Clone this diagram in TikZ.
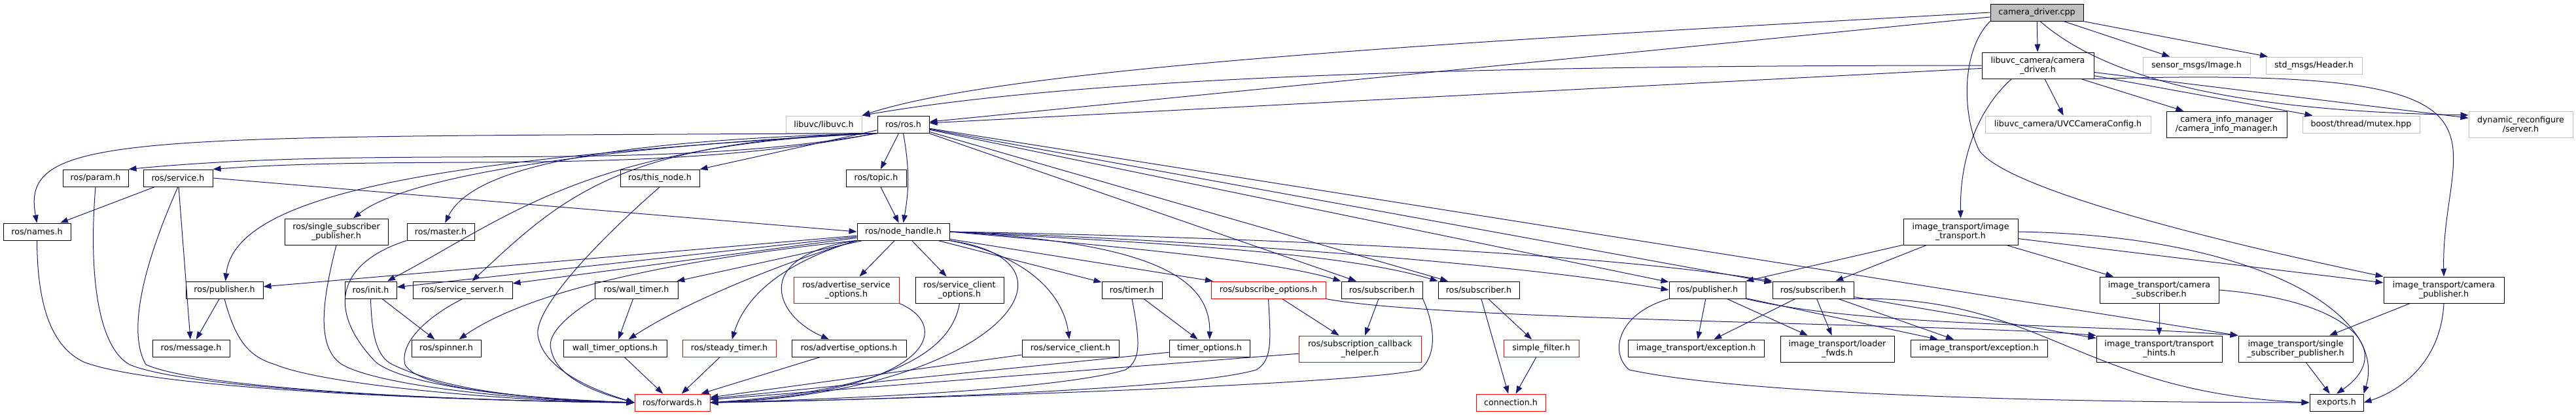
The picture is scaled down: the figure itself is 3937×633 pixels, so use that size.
\documentclass[tikz,border=0pt]{standalone}
\usepackage{fontspec}
\setmainfont{DejaVu Sans}
\usetikzlibrary{arrows.meta}
\definecolor{edgeblue}{HTML}{191970}
\definecolor{extgray}{HTML}{BFBFBF}

\begin{document}
\begin{tikzpicture}[x=0.75pt, y=-0.75pt,
  every node/.style={font=\fontsize{9.5}{10.5}\selectfont},
  box/.style={draw=black, line width=0.75pt, fill=white, inner sep=0pt, minimum height=19.5pt, align=center},
  two/.style={minimum height=30pt},
  bw/.style={minimum width=#1*0.75pt},
  ext/.style={box, draw=extgray},
  trunc/.style={box, draw=red},
  root/.style={box, fill=extgray},
  dep/.style={draw=edgeblue, line width=0.75pt, -{Triangle[length=9pt,width=6.5pt]}}]
  \useasboundingbox (0,0) rectangle (3937,633);

  % root and its direct includes
  \node[root, bw=142] (cpp) at (3113,19) {camera\_driver.cpp};
  \node[box, two, bw=171] (drvh) at (3114.5,100) {libuvc\_camera/camera\\\_driver.h};
  \node[ext, bw=164] (image) at (3357,100) {sensor\_msgs/Image.h};
  \node[ext, bw=147] (header) at (3536.5,100) {std\_msgs/Header.h};
  \node[ext, bw=116] (libuvc) at (1259,190) {libuvc/libuvc.h};
  \node[box, bw=79] (ros) at (1380.5,190) {ros/ros.h};
  \node[ext, bw=253] (uvccfg) at (3160.5,190) {libuvc\_camera/UVCCameraConfig.h};
  \node[box, two, bw=184] (cim) at (3403,190) {camera\_info\_manager\\/camera\_info\_manager.h};
  \node[ext, bw=179] (mutex) at (3608.5,190) {boost/thread/mutex.hpp};
  \node[ext, two, bw=159] (dynrec) at (3852.5,190) {dynamic\_reconfigure\\/server.h};

  % ros headers, upper rows
  \node[box, bw=100] (param) at (146,272) {ros/param.h};
  \node[box, bw=106] (service) at (272,272) {ros/service.h};
  \node[box, bw=121] (thisnode) at (1008.5,272) {ros/this\_node.h};
  \node[box, bw=92] (topic) at (1339,272) {ros/topic.h};
  \node[box, bw=103] (names) at (56.5,354) {ros/names.h};
  \node[box, two, bw=158] (sspub) at (514,354) {ros/single\_subscriber\\\_publisher.h};
  \node[box, bw=103] (master) at (673.5,354) {ros/master.h};
  \node[box, bw=141] (nh) at (1380.5,354) {ros/node\_handle.h};
  \node[box, two, bw=175] (itimg) at (2996.5,354) {image\_transport/image\\\_transport.h};

  % middle row
  \node[box, bw=118] (pubros) at (343,443) {ros/publisher.h};
  \node[box, bw=79] (init) at (566.5,443) {ros/init.h};
  \node[box, bw=152] (srvsrv) at (707,443) {ros/service\_server.h};
  \node[box, bw=127] (walltimer) at (972.5,443) {ros/wall\_timer.h};
  \node[trunc, two, bw=161] (advsrvopt) at (1293.5,443) {ros/advertise\_service\\\_options.h};
  \node[box, two, bw=135] (srvcliopt) at (1466.5,443) {ros/service\_client\\\_options.h};
  \node[box, bw=92] (timer) at (1730,443) {ros/timer.h};
  \node[trunc, bw=175] (subopt) at (1938.5,443) {ros/subscribe\_options.h};
  \node[box, bw=124] (subA) at (2112,443) {ros/subscriber.h};
  \node[box, bw=124] (subB) at (2260,443) {ros/subscriber.h};
  \node[box, bw=117] (pubit) at (2609.5,443) {ros/publisher.h};
  \node[box, bw=124] (subit) at (2771,443) {ros/subscriber.h};
  \node[box, two, bw=182] (camsub) at (3300,443) {image\_transport/camera\\\_subscriber.h};
  \node[box, two, bw=184] (campub) at (3735,443) {image\_transport/camera\\\_publisher.h};

  % lower row
  \node[box, bw=118] (message) at (292,532) {ros/message.h};
  \node[box, bw=106] (spinner) at (682,532) {ros/spinner.h};
  \node[box, bw=158] (wtopt) at (940,532) {wall\_timer\_options.h};
  \node[trunc, bw=143] (steady) at (1114.5,532) {ros/steady\_timer.h};
  \node[box, bw=175] (advopt) at (1297.5,532) {ros/advertise\_options.h};
  \node[box, bw=148] (srvcli) at (1636,532) {ros/service\_client.h};
  \node[box, bw=123] (timeropt) at (1848.5,532) {timer\_options.h};
  \node[trunc, two, bw=187] (subcb) at (2078.5,533) {ros/subscription\_callback\\\_helper.h};
  \node[trunc, bw=115] (simple) at (2355.5,532) {simple\_filter.h};
  \node[box, bw=208] (excA) at (2592,532) {image\_transport/exception.h};
  \node[box, two, bw=174] (loader) at (2808,533) {image\_transport/loader\\\_fwds.h};
  \node[box, bw=209] (excB) at (3024.5,532) {image\_transport/exception.h};
  \node[box, two, bw=192] (hints) at (3300,533) {image\_transport/transport\\\_hints.h};
  \node[box, two, bw=175] (sspubit) at (3508.5,533) {image\_transport/single\\\_subscriber\_publisher.h};

  % bottom row
  \node[trunc, bw=115] (forwards) at (1027.5,615) {ros/forwards.h};
  \node[trunc, bw=106] (connection) at (2309,615) {connection.h};
  \node[box, bw=82] (exports) at (3571,615) {exports.h};

  % edges from camera_driver.cpp
  \draw[dep] (cpp) -- (drvh);
  \draw[dep] (cpp) -- (image);
  \draw[dep] (cpp) -- (header);
  \draw[dep] (cpp.west) .. controls (2300,60) and (1550,100) .. (libuvc.north east);
  \draw[dep] (cpp) -- (ros);
  \draw[dep] (cpp.290) .. controls (3230,130) and (3450,170) .. (dynrec.170);
  \draw[dep] (cpp.south west) .. controls (2995,80) and (3000,180) .. (3025,230)
    .. controls (3060,280) and (3300,350) .. (campub.north west);

  % edges from camera_driver.h
  \draw[dep] (drvh) -- (ros);
  \draw[dep] (drvh.west) .. controls (2400,100) and (1700,110) .. (libuvc.north east);
  \draw[dep] (drvh) -- (uvccfg);
  \draw[dep] (drvh) -- (cim);
  \draw[dep] (drvh) -- (mutex);
  \draw[dep] (drvh) -- (dynrec);
  \draw[dep] (drvh.south east) .. controls (3900,100) and (3730,200) .. (campub.north);
  \draw[dep] ([xshift=-30pt]drvh.south) .. controls (3030,160) and (2995,230) .. (itimg.north);

  % edges from ros.h
  \draw[dep] (ros.south west) .. controls (1000,265) and (600,220) .. (param.north east);
  \draw[dep] (ros.south west) .. controls (1000,270) and (650,235) .. (service.north east);
  \draw[dep] (ros.south west) .. controls (200,210) and (30,200) .. (names.north);
  \draw[dep] (ros) -- (thisnode);
  \draw[dep] (ros) -- (topic);
  \draw[dep] (ros.south) to[bend left=10] (nh.north);
  \draw[dep] (ros.south west) .. controls (900,225) and (620,270) .. (sspub);
  \draw[dep] (ros.south west) .. controls (900,215) and (720,260) .. (master);
  \draw[dep] (ros.south west) .. controls (700,240) and (360,290) .. (pubros);
  \draw[dep] (ros.south west) .. controls (900,220) and (780,330) .. (init);
  \draw[dep] (ros.south west) .. controls (950,215) and (860,300) .. (srvsrv);
  \draw[dep] (ros) -- (subA);
  \draw[dep] (ros) -- (subB);
  \draw[dep] (ros) -- (pubit);
  \draw[dep] (ros) -- (subit);
  \draw[dep] (ros) -- (sspubit.north west);

  % left part down to ros/forwards.h
  \draw[dep] (service) -- (names);
  \draw[dep] (service) -- (message);
  \draw[dep] (service.east) -- (nh.west);
  \draw[dep] (topic) -- (nh);
  \draw[dep] (pubros) -- (message);
  \draw[dep] (init) -- (spinner);
  \draw[dep] (walltimer) -- (wtopt);
  \draw[dep] (names.south) .. controls (57,470) and (80,530) .. (128,553)
    .. controls (250,600) and (800,614) .. (forwards.west);
  \draw[dep] (param.south) .. controls (135,420) and (150,530) .. (198,557)
    .. controls (300,600) and (800,614) .. (forwards.west);
  \draw[dep] (service.south) .. controls (230,380) and (190,500) .. (223,557)
    .. controls (320,600) and (800,614) .. (forwards.west);
  \draw[dep] (pubros.south) .. controls (360,520) and (380,545) .. (421,557)
    .. controls (500,590) and (800,614) .. (forwards.west);
  \draw[dep] (sspub.south) .. controls (495,450) and (480,530) .. (523,557)
    .. controls (580,590) and (800,612) .. (forwards.west);
  \draw[dep] (master.south west) .. controls (520,400) and (495,470) .. (574,553)
    .. controls (620,590) and (800,610) .. (forwards.west);
  \draw[dep] (init.south) .. controls (568,510) and (575,545) .. (600,557)
    .. controls (680,595) and (800,610) .. (forwards.west);
  \draw[dep] (srvsrv.south) .. controls (660,480) and (610,520) .. (619,557)
    .. controls (640,595) and (800,608) .. (forwards.west);
  \draw[dep] (thisnode.south) .. controls (900,380) and (810,480) .. (823,517)
    .. controls (835,570) and (920,600) .. (forwards.west);
  \draw[dep] (walltimer.south west) .. controls (870,480) and (835,510) .. (842,533)
    .. controls (850,580) and (920,602) .. (forwards.west);
  \draw[dep] (wtopt) -- (forwards);
  \draw[dep] (steady) -- (forwards);
  \draw[dep] (advopt) -- (forwards);

  % right part down to ros/forwards.h
  \draw[dep] (advsrvopt.south east) .. controls (1460,500) and (1420,600) .. (forwards.east);
  \draw[dep] (srvcliopt.south) .. controls (1450,560) and (1300,600) .. (forwards.east);
  \draw[dep] (srvcli) -- (forwards);
  \draw[dep] (timer) -- (timeropt);
  \draw[dep] (timer.south) .. controls (1742,520) and (1745,550) .. (1720,565)
    .. controls (1600,600) and (1200,612) .. (forwards.east);
  \draw[dep] (timeropt) -- (forwards);
  \draw[dep] (subopt.south) .. controls (1942,520) and (1945,550) .. (1920,565)
    .. controls (1800,600) and (1200,614) .. (forwards.east);
  \draw[dep] (subopt) -- (subcb);
  \draw[dep] (subopt.south east) .. controls (2200,490) and (3000,495) .. (hints.north west);
  \draw[dep] (subcb) -- (forwards);
  \draw[dep] (subA) -- (subcb);
  \draw[dep] (subA.south east) .. controls (2190,490) and (2200,540) .. (2170,565)
    .. controls (2050,590) and (1300,612) .. (forwards.east);
  \draw[dep] (subB) -- (connection);
  \draw[dep] (subB) -- (simple);
  \draw[dep] (simple) -- (connection);

  % edges from ros/node_handle.h
  \draw[dep] (nh) -- (pubros);
  \draw[dep] (nh) -- (init);
  \draw[dep] (nh) -- (srvsrv);
  \draw[dep] (nh.south west) .. controls (1000,400) and (800,450) .. (spinner);
  \draw[dep] (nh) -- (walltimer);
  \draw[dep] (nh.south west) .. controls (1200,400) and (1050,460) .. (wtopt);
  \draw[dep] (nh.south west) .. controls (1200,400) and (1140,450) .. (steady);
  \draw[dep] (nh.south west) .. controls (1150,390) and (1180,480) .. (advopt);
  \draw[dep] (nh) -- (advsrvopt);
  \draw[dep] (nh) -- (srvcliopt);
  \draw[dep] (nh.south east) .. controls (1680,400) and (1520,600) .. (forwards.east);
  \draw[dep] (nh.south east) .. controls (1570,390) and (1625,450) .. (srvcli);
  \draw[dep] (nh) -- (timer);
  \draw[dep] (nh.east) .. controls (1750,370) and (1850,420) .. (timeropt);
  \draw[dep] (nh) -- (subopt);
  \draw[dep] (nh.east) .. controls (1750,380) and (1950,400) .. (subA.north west);
  \draw[dep] (nh.east) .. controls (1750,370) and (2050,385) .. (subB.north west);
  \draw[dep] (nh.east) .. controls (1800,365) and (2300,400) .. (pubit.west);
  \draw[dep] (nh.east) .. controls (1800,360) and (2400,380) .. (subit.north west);

  % image_transport side
  \draw[dep] (pubit) -- (excA);
  \draw[dep] (pubit) -- (loader);
  \draw[dep] (pubit) -- (excB);
  \draw[dep] (pubit.south east) .. controls (2850,500) and (3200,495) .. (sspubit.north west);
  \draw[dep] (pubit.south west) .. controls (2470,480) and (2460,540) .. (2490,565)
    .. controls (2700,610) and (3300,615) .. (exports.west);
  \draw[dep] (subit) -- (excA);
  \draw[dep] (subit) -- (loader);
  \draw[dep] (subit) -- (excB);
  \draw[dep] (subit) -- (hints);
  \draw[dep] (subit.south east) .. controls (3120,450) and (3180,600) .. (exports.west);
  \draw[dep] (itimg) -- (pubit);
  \draw[dep] (itimg) -- (subit);
  \draw[dep] (itimg) -- (camsub);
  \draw[dep] (itimg) -- (campub);
  \draw[dep] (itimg.east) .. controls (3450,360) and (3650,480) .. (exports.north east);
  \draw[dep] (camsub) -- (hints);
  \draw[dep] (camsub.east) .. controls (3600,460) and (3660,540) .. (exports.north);
  \draw[dep] (campub) -- (sspubit);
  \draw[dep] (campub.south) .. controls (3730,560) and (3660,600) .. (exports.east);
  \draw[dep] (sspubit) -- (exports);
\end{tikzpicture}
\end{document}
